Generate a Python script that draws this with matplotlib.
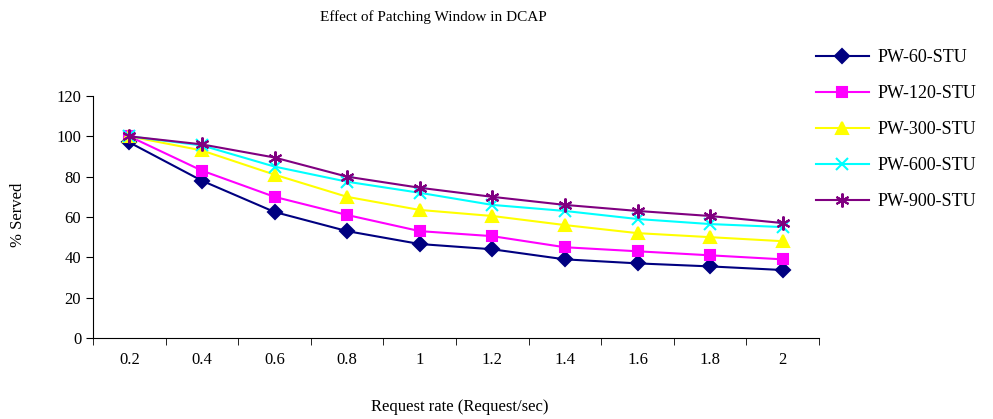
import numpy as np
import matplotlib
matplotlib.use("Agg")
import matplotlib.pyplot as plt

plt.rcParams["font.family"] = ["Liberation Serif", "DejaVu Serif"]

rates = ["0.2", "0.4", "0.6", "0.8", "1", "1.2", "1.4", "1.6", "1.8", "2"]
pw60 = [97, 78, 62.5, 53, 46.6, 44, 39, 37, 35.5, 33.7]
pw120 = [100, 83, 70, 61, 53, 50.5, 45, 43, 41, 39]
pw300 = [100, 93, 81, 70, 63.5, 60.5, 56, 52, 50, 48]
pw600 = [100, 95.5, 85, 77.5, 72, 66, 63, 59, 56.5, 55]
pw900 = [100, 96, 89.5, 80, 74.5, 70, 66, 63, 60.5, 57]

series = [
    ("PW-60-STU", pw60, "#000080", "D", 7),
    ("PW-120-STU", pw120, "#FF00FF", "s", 7),
    ("PW-300-STU", pw300, "#FFFF00", "^", 8),
    ("PW-600-STU", pw600, "#00FFFF", "x", 8),
    ("PW-900-STU", pw900, "#800080", (6, 2, 0), 10),
]

fig = plt.figure(figsize=(9.93, 4.19), dpi=100)
ax = fig.add_axes([93 / 993, 81 / 419, 726 / 993, 242 / 419])

x = np.arange(len(rates))
for name, vals, col, mk, ms in series:
    ax.plot(x, vals, color=col, marker=mk, markersize=ms, linewidth=1.5,
            markeredgewidth=1.5, label=name)

ax.set_xlim(-0.5, len(rates) - 0.5)
ax.set_ylim(0, 120)
ax.set_yticks(range(0, 121, 20))
ax.set_xticks(x)
ax.set_xticklabels(rates)
ax.set_xticks(np.arange(-0.5, len(rates), 1), minor=True)
ax.tick_params(axis="x", which="major", length=0, pad=10, labelsize=12)
ax.tick_params(axis="x", which="minor", length=5, direction="out")
ax.tick_params(axis="y", length=5, direction="out", labelsize=12)
for s in ("top", "right"):
    ax.spines[s].set_visible(False)

fig.text(433 / 993, 1 - 17 / 419, "Effect of Patching Window in DCAP",
         ha="center", va="center", fontsize=11)
fig.text(460 / 993, 1 - 407 / 419, "Request rate (Request/sec)",
         ha="center", va="center", fontsize=12)
fig.text(18 / 993, 1 - 215 / 419, "% Served", rotation=90,
         ha="center", va="center", fontsize=12)

fig.legend(loc="upper left", bbox_to_anchor=(800 / 993, 1 - 33 / 419),
           frameon=False, fontsize=13, handlelength=2.9, handletextpad=0.5,
           labelspacing=1.05)

fig.savefig("out.png", dpi=100)
